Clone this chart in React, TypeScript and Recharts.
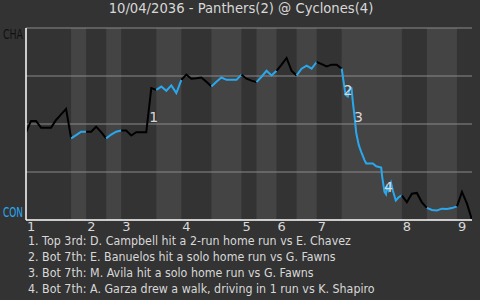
import React from "react";
import {
  ComposedChart,
  Line,
  Scatter,
  XAxis,
  YAxis,
  ReferenceArea,
  ReferenceLine,
} from "recharts";

const FONT = '"DejaVu Sans", "Noto Sans", sans-serif';
const BLUE = "#2aa8ee";
const TEXT = "#d8d8d8";

const title = "10/04/2036 - Panthers(2) @ Cyclones(4)";
const teamTop = "CHA";
const teamBottom = "CON";

// plate appearance index (bottom 7th read at finer steps)
const pa = [
  0, 1, 2, 3, 4, 5, 6, 7, 8, 9, 10, 11, 12, 13, 14, 15, 16, 17, 18, 19, 20,
  21, 22, 23, 24, 25, 26, 27, 28, 29, 30, 31, 32, 33, 34, 35, 36, 37, 38, 39,
  40, 41, 42, 43, 44, 45, 46, 47, 48, 49, 50, 51, 52, 53, 54, 55, 56, 57, 58,
  59, 60, 61, 62, 63, 63.76, 64.22, 64.66, 64.96, 65.22, 65.56, 65.9, 66.41,
  66.89, 67.55, 67.89, 69.21, 69.89, 70.88, 71.08, 71.54, 71.84, 72.04, 72.34,
  72.84, 73.2, 73.8, 74.4, 75, 76, 77, 78, 79, 80, 81, 82, 83, 84, 85, 86, 87,
  88, 89,
];

// win probability for CHA
const winProb = [
  0.457, 0.516, 0.516, 0.481, 0.481, 0.481, 0.521, 0.55, 0.579, 0.425, 0.442,
  0.46, 0.46, 0.46, 0.486, 0.458, 0.425, 0.445, 0.46, 0.466, 0.466, 0.44,
  0.457, 0.457, 0.457, 0.687, 0.678, 0.695, 0.673, 0.701, 0.661, 0.73, 0.757,
  0.736, 0.738, 0.742, 0.72, 0.695, 0.72, 0.742, 0.73, 0.73, 0.73, 0.757,
  0.736, 0.726, 0.718, 0.746, 0.777, 0.753, 0.777, 0.809, 0.844, 0.777, 0.753,
  0.788, 0.804, 0.788, 0.823, 0.812, 0.8, 0.809, 0.809, 0.788, 0.652, 0.643,
  0.691, 0.687, 0.615, 0.538, 0.453, 0.39, 0.355, 0.312, 0.294, 0.294, 0.28,
  0.273, 0.224, 0.146, 0.134, 0.172, 0.154, 0.193, 0.154, 0.102, 0.119, 0.128,
  0.093, 0.137, 0.141, 0.092, 0.063, 0.052, 0.05, 0.059, 0.057, 0.062, 0.071,
  0.146, 0.085, 0,
];

// first PA of each half inning (top, bottom, top, ...)
const halfStarts = [0, 9, 12, 16, 19, 26, 31, 37, 43, 46, 50, 54, 58, 63, 75, 80, 86];
const lastPa = 89;

const inningTicks = [0, 12, 19, 31, 43, 50, 58, 75, 86];
const inningLabels = ["1", "2", "3", "4", "5", "6", "7", "8", "9"];

const noteX = [25.5, 64.26, 66.35, 72.34];
const noteY = [0.535, 0.678, 0.538, 0.17];
const notes = [
  "1. Top 3rd: D. Campbell hit a 2-run home run vs E. Chavez",
  "2. Bot 7th: E. Banuelos hit a solo home run vs G. Fawns",
  "3. Bot 7th: M. Avila hit a solo home run vs G. Fawns",
  "4. Bot 7th: A. Garza drew a walk, driving in 1 run vs K. Shapiro",
];

const points = pa.map((x, i) => ({ x, wp: winProb[i] }));

const halves = halfStarts.map((start, h) => {
  const end = h < halfStarts.length - 1 ? halfStarts[h + 1] : lastPa;
  return {
    start,
    end,
    bottom: h % 2 === 1,
    data: points.filter((p) => p.x >= start && p.x <= end),
  };
});

const noteData = noteX.map((x, i) => ({ x, wp: noteY[i], n: String(i + 1) }));

const XTick = (props: any) => {
  const { x, y, payload, index } = props;
  return (
    <text x={x + 1} y={y + 3} textAnchor="start" fill={TEXT} fontSize={13} fontFamily={FONT}>
      {inningLabels[index] ?? payload.value}
    </text>
  );
};

const YTick = (props: any) => {
  const { y, payload } = props;
  const top = payload.value === 1;
  return (
    <text
      x={3}
      y={top ? y + 11 : y - 3}
      textAnchor="start"
      fill={top ? "#111111" : BLUE}
      fontSize={14}
      fontFamily={FONT}
      textLength={20}
      lengthAdjust="spacingAndGlyphs"
    >
      {top ? teamTop : teamBottom}
    </text>
  );
};

const NoteMark = (props: any) => {
  const { cx, cy, payload } = props;
  return (
    <text x={cx} y={cy + 5} textAnchor="middle" fill={TEXT} fontSize={14} fontFamily={FONT}>
      {payload.n}
    </text>
  );
};

export default function App() {
  return (
    <div
      style={{
        position: "absolute",
        left: 0,
        top: 0,
        width: 480,
        height: 300,
        background: "#333333",
        fontFamily: FONT,
        overflow: "hidden",
      }}
    >
      <style>{`body{margin:0;background:#333333;}`}</style>
      <div
        style={{
          position: "absolute",
          left: 0,
          top: 0,
          width: 482,
          textAlign: "center",
          color: TEXT,
          fontSize: 14,
          lineHeight: "16px",
          transform: "scaleX(0.94)",
          transformOrigin: "center top",
        }}
      >
        {title}
      </div>
      <ComposedChart
        width={480}
        height={300}
        margin={{ top: 28, right: 8, bottom: 60, left: 0 }}
      >
        {halves
          .filter((h) => h.bottom)
          .map((h, i) => (
            <ReferenceArea
              key={"band" + i}
              x1={h.start}
              x2={h.end}
              y1={0}
              y2={1}
              fill="#444444"
              fillOpacity={1}
              stroke="none"
            />
          ))}
        {[0.25, 0.5, 0.75, 1].map((v) => (
          <ReferenceLine key={"g" + v} y={v} stroke="#8a8a8a" strokeWidth={1} />
        ))}
        <XAxis
          dataKey="x"
          type="number"
          domain={[0, lastPa]}
          ticks={inningTicks}
          tick={<XTick />}
          tickLine={false}
          axisLine={{ stroke: "#ffffff", strokeWidth: 1.5 }}
          height={20}
          interval={0}
          allowDataOverflow
        />
        <YAxis
          dataKey="wp"
          type="number"
          domain={[0, 1]}
          ticks={[0, 1]}
          tick={<YTick />}
          tickLine={false}
          axisLine={{ stroke: "#ffffff", strokeWidth: 1.5 }}
          width={26}
          interval={0}
        />
        {halves.map((h, i) => (
          <Line
            key={"half" + i}
            data={h.data}
            dataKey="wp"
            type="linear"
            stroke={h.bottom ? BLUE : "#000000"}
            strokeWidth={2}
            dot={false}
            activeDot={false}
            isAnimationActive={false}
          />
        ))}
        <Scatter data={noteData} dataKey="wp" shape={<NoteMark />} isAnimationActive={false} />
      </ComposedChart>
      <div
        style={{
          position: "absolute",
          left: 28,
          top: 233,
          color: TEXT,
          fontSize: 13,
          lineHeight: "16px",
          whiteSpace: "nowrap",
          transform: "scaleX(0.853)",
          transformOrigin: "left top",
        }}
      >
        {notes.map((t) => (
          <div key={t}>{t}</div>
        ))}
      </div>
    </div>
  );
}
